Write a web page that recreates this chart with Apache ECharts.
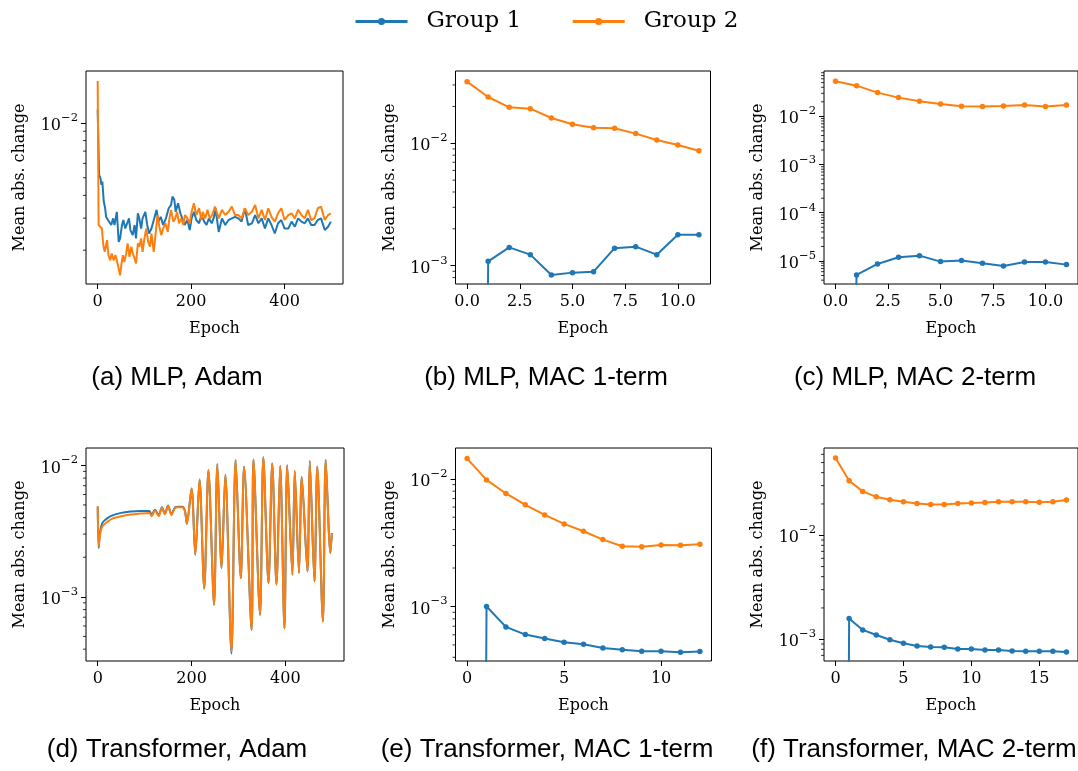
<!DOCTYPE html>
<html>
<head>
<meta charset="utf-8">
<script src="https://cdn.jsdelivr.net/npm/echarts@6/dist/echarts.min.js"></script>
<style>
html,body{margin:0;padding:0;background:#fff;}
#chart{width:1078px;height:771px;}
</style>
</head>
<body>
<div id="chart"></div>
<script>
// ---------------- DATA ----------------
const seriesNames = ['Group 1', 'Group 2'];

// (a) MLP, Adam
const aEpochs1 = [0,3,6,8,10,13,16,18,22,25,29,33,36,41,45,48,52,55,59,63,67,70,75,79,82,86,89,93,96,102,106,110,115,121,126,130,135,140,146,152,157,160,164,167,172,177,181,186,192,197,201,206,211,217,222,228,233,238,244,249,252,259,266,273,280,287,294,301,308,315,322,330,337,344,351,358,365,372,379,386,393,400,408,415,422,429,436,443,450,457,464,471,478,486,493,499];
const aGroup1 = [1.185e-2,5.19e-3,4.97e-3,4.57e-3,4.77e-3,3.70e-3,3.40e-3,3.05e-3,2.93e-3,2.99e-3,2.75e-3,2.99e-3,2.75e-3,3.25e-3,2.22e-3,2.32e-3,2.75e-3,2.93e-3,2.63e-3,2.81e-3,2.99e-3,2.58e-3,2.42e-3,2.75e-3,2.32e-3,3.19e-3,2.99e-3,2.63e-3,2.99e-3,3.25e-3,2.75e-3,2.47e-3,2.63e-3,2.99e-3,3.33e-3,2.87e-3,3.05e-3,2.75e-3,2.99e-3,3.40e-3,3.54e-3,3.94e-3,3.78e-3,3.25e-3,3.62e-3,3.19e-3,2.99e-3,2.75e-3,2.93e-3,2.58e-3,2.99e-3,3.25e-3,2.93e-3,2.81e-3,3.12e-3,2.87e-3,2.75e-3,2.99e-3,2.81e-3,3.05e-3,3.40e-3,2.52e-3,2.99e-3,2.75e-3,2.93e-3,2.99e-3,3.05e-3,2.99e-3,2.87e-3,3.40e-3,2.75e-3,2.81e-3,3.12e-3,2.81e-3,2.99e-3,2.63e-3,2.99e-3,2.75e-3,2.47e-3,2.81e-3,2.93e-3,2.63e-3,2.63e-3,2.87e-3,2.69e-3,2.99e-3,2.87e-3,2.81e-3,2.99e-3,2.75e-3,2.75e-3,2.93e-3,2.99e-3,2.58e-3,2.69e-3,2.87e-3];
const aEpochs2 = [0,2,6,9,12,15,17,20,23,27,30,34,38,41,45,48,51,54,57,61,64,68,72,75,79,82,86,89,93,96,100,104,108,112,115,120,125,128,132,136,140,145,150,153,157,162,166,170,174,179,183,187,192,197,201,206,211,217,222,225,230,235,240,245,251,259,266,273,280,287,294,301,308,315,322,330,337,344,351,358,365,372,379,386,393,400,408,415,422,429,436,443,450,457,464,471,478,486,493,499];
const aGroup2 = [1.70e-2,2.75e-3,2.72e-3,2.63e-3,2.13e-3,1.96e-3,1.92e-3,2.27e-3,1.88e-3,1.76e-3,1.92e-3,1.76e-3,1.88e-3,1.76e-3,1.58e-3,1.455e-3,1.69e-3,1.88e-3,1.72e-3,1.92e-3,2.18e-3,1.84e-3,2.09e-3,1.92e-3,1.80e-3,1.69e-3,2.18e-3,2.09e-3,2.32e-3,1.96e-3,2.32e-3,2.63e-3,2.22e-3,2.09e-3,2.47e-3,1.96e-3,2.63e-3,3.12e-3,2.69e-3,2.42e-3,2.63e-3,2.81e-3,2.52e-3,2.93e-3,3.33e-3,2.87e-3,2.99e-3,3.25e-3,2.81e-3,2.99e-3,2.75e-3,3.12e-3,2.99e-3,2.81e-3,3.25e-3,3.62e-3,3.12e-3,3.40e-3,2.93e-3,3.25e-3,2.99e-3,3.33e-3,2.99e-3,3.12e-3,3.47e-3,2.99e-3,3.33e-3,3.12e-3,3.25e-3,3.47e-3,3.12e-3,3.12e-3,2.99e-3,3.40e-3,3.12e-3,3.25e-3,3.54e-3,2.99e-3,3.33e-3,2.93e-3,3.40e-3,3.05e-3,2.87e-3,3.19e-3,3.40e-3,2.93e-3,3.12e-3,3.19e-3,2.99e-3,3.33e-3,3.12e-3,2.99e-3,3.33e-3,2.93e-3,2.99e-3,3.40e-3,3.47e-3,2.93e-3,3.12e-3,3.19e-3];

// (b) MLP, MAC 1-term
const bEpochs = [0,1,2,3,4,5,6,7,8,9,10,11];
const bGroup1 = [0,1.085e-3,1.41e-3,1.23e-3,8.39e-4,8.77e-4,8.93e-4,1.39e-3,1.43e-3,1.23e-3,1.79e-3,1.79e-3];
const bGroup2 = [3.19e-2,2.39e-2,1.97e-2,1.92e-2,1.61e-2,1.43e-2,1.34e-2,1.33e-2,1.20e-2,1.065e-2,9.69e-3,8.7e-3];

// (c) MLP, MAC 2-term
const cEpochs = [0,1,2,3,4,5,6,7,8,9,10,11];
const cGroup1 = [0,5.13e-6,8.67e-6,1.19e-5,1.29e-5,9.7e-6,1.02e-5,8.95e-6,7.87e-6,9.5e-6,9.5e-6,8.4e-6];
const cGroup2 = [5.32e-2,4.32e-2,3.10e-2,2.44e-2,2.05e-2,1.80e-2,1.61e-2,1.59e-2,1.64e-2,1.72e-2,1.59e-2,1.72e-2];

// (d) Transformer, Adam
const dEpochs = [0,2,5,10,20,30,50,70,90,110,115,122,130,137,143,150,157,165,172,180,186,190,200,208,217,227,236,248,255,264,272,285,294,305,312,328,332,346,353,364,372,381,389,398,404,415,420,429,435,447,452,462,468,480,486,496,499];
const dGroup1 = [4.8e-3,2.35e-3,3.1e-3,3.65e-3,3.95e-3,4.15e-3,4.35e-3,4.45e-3,4.5e-3,4.5e-3,4.2e-3,4.6e-3,4.2e-3,4.8e-3,4.3e-3,4.95e-3,4.25e-3,4.8e-3,4.85e-3,4.85e-3,4.5e-3,3.59e-3,6.67e-3,2.09e-3,7.82e-3,1.16e-3,9.16e-3,8.7e-4,1.02e-2,1.66e-3,8.5e-3,3.7e-4,1.1e-2,1.39e-3,9.77e-3,5.6e-4,1.11e-2,7.3e-4,1.15e-2,1.27e-3,1.035e-2,1.24e-3,9.9e-3,5.77e-4,1.0e-2,1.47e-3,9.05e-3,1.52e-3,8.15e-3,1.56e-3,1.08e-2,1.31e-3,9.77e-3,6.5e-4,1.1e-2,2.15e-3,3.06e-3];
const dGroup2 = [4.9e-3,2.42e-3,2.97e-3,3.44e-3,3.71e-3,3.92e-3,4.1e-3,4.23e-3,4.3e-3,4.35e-3,4.1e-3,4.54e-3,4.1e-3,4.75e-3,4.25e-3,4.9e-3,4.2e-3,4.75e-3,4.8e-3,4.8e-3,4.5e-3,3.59e-3,6.67e-3,2.09e-3,7.82e-3,1.16e-3,9.16e-3,8.7e-4,1.02e-2,1.66e-3,8.5e-3,3.83e-4,1.1e-2,1.39e-3,9.77e-3,5.6e-4,1.11e-2,7.3e-4,1.15e-2,1.27e-3,1.035e-2,1.24e-3,9.9e-3,5.77e-4,1.0e-2,1.47e-3,9.05e-3,1.52e-3,8.15e-3,1.56e-3,1.08e-2,1.31e-3,9.77e-3,6.5e-4,1.1e-2,2.15e-3,3.06e-3];

// (e) Transformer, MAC 1-term
const eEpochs = [0,1,2,3,4,5,6,7,8,9,10,11,12];
const eGroup1 = [0,1.0e-3,6.92e-4,6.02e-4,5.61e-4,5.25e-4,5.06e-4,4.73e-4,4.59e-4,4.46e-4,4.46e-4,4.38e-4,4.43e-4];
const eGroup2 = [1.44e-2,9.8e-3,7.67e-3,6.25e-3,5.21e-3,4.43e-3,3.88e-3,3.34e-3,2.96e-3,2.94e-3,3.03e-3,3.02e-3,3.07e-3];

// (f) Transformer, MAC 2-term
const fEpochs = [0,1,2,3,4,5,6,7,8,9,10,11,12,13,14,15,16,17];
const fGroup1 = [0,1.58e-3,1.23e-3,1.10e-3,9.9e-4,9.15e-4,8.62e-4,8.44e-4,8.38e-4,8.07e-4,8.07e-4,7.89e-4,7.89e-4,7.71e-4,7.66e-4,7.66e-4,7.66e-4,7.55e-4];
const fGroup2 = [5.53e-2,3.34e-2,2.64e-2,2.34e-2,2.19e-2,2.10e-2,2.02e-2,1.98e-2,1.98e-2,2.02e-2,2.04e-2,2.07e-2,2.10e-2,2.10e-2,2.10e-2,2.08e-2,2.10e-2,2.18e-2];

// tick labels
const xTicksAdam = [0, 200, 400];
const xTicksB = [0, 2.5, 5, 7.5, 10];
const xTicksE = [0, 5, 10];
const xTicksF = [0, 5, 10, 15];
const captions = ['(a) MLP, Adam', '(b) MLP, MAC 1-term', '(c) MLP, MAC 2-term',
                  '(d) Transformer, Adam', '(e) Transformer, MAC 1-term', '(f) Transformer, MAC 2-term'];
const xName = 'Epoch';
const yName = 'Mean abs. change';

// ---------------- LAYOUT ----------------
const COLORS = ['#1f77b4', '#ff7f0e'];
const SERIF = 'DejaVu Serif';
const panels = [
  { grid: {left: 86, top: 71, width: 257, height: 213}, xr: [-25, 525], xt: xTicksAdam, fmt: v => String(v), yr: [1.304e-3, 1.929e-2],
    lines: [[aEpochs1, aGroup1], [aEpochs2, aGroup2]], markers: false, smooth: false, cap: [177, 378] },
  { grid: {left: 455.5, top: 71, width: 255, height: 213}, xr: [-0.55, 11.55], xt: xTicksB, fmt: v => v.toFixed(1), yr: [7.08e-4, 0.039],
    lines: [[bEpochs, bGroup1], [bEpochs, bGroup2]], markers: true, smooth: false, cap: [546, 378] },
  { grid: {left: 824, top: 71, width: 258, height: 213}, xr: [-0.55, 11.55], xt: xTicksB, fmt: v => v.toFixed(1), yr: [3.33e-6, 0.087],
    lines: [[cEpochs, cGroup1], [cEpochs, cGroup2]], markers: true, smooth: false, cap: [915, 378] },
  { grid: {left: 86, top: 448, width: 258, height: 213}, xr: [-25, 525], xt: xTicksAdam, fmt: v => String(v), yr: [3.25e-4, 0.01355],
    lines: [[dEpochs, dGroup1], [dEpochs, dGroup2]], markers: false, smooth: 0.3, cap: [177, 750] },
  { grid: {left: 455.5, top: 448, width: 256, height: 213}, xr: [-0.6, 12.6], xt: xTicksE, fmt: v => String(v), yr: [3.74e-4, 0.01742],
    lines: [[eEpochs, eGroup1], [eEpochs, eGroup2]], markers: true, smooth: false, cap: [547, 750] },
  { grid: {left: 824, top: 448, width: 257, height: 213}, xr: [-0.85, 17.85], xt: xTicksF, fmt: v => String(v), yr: [6.18e-4, 0.069],
    lines: [[fEpochs, fGroup1], [fEpochs, fGroup2]], markers: true, smooth: false, cap: [914, 750] }
];

function decadesIn(lo, hi) {
  const out = [];
  for (let k = Math.floor(Math.log10(lo)); k <= Math.ceil(Math.log10(hi)); k++) {
    const v = Math.pow(10, k);
    if (v >= lo * 0.999 && v <= hi * 1.001) out.push(v);
  }
  return out;
}
function minorsIn(lo, hi) {
  const out = [];
  for (let k = Math.floor(Math.log10(lo)); k <= Math.ceil(Math.log10(hi)); k++) {
    for (let m = 2; m <= 9; m++) {
      const v = m * Math.pow(10, k);
      if (v >= lo && v <= hi) out.push(v);
    }
  }
  return out;
}

const grids = [], xAxes = [], yAxes = [], series = [], graphics = [];
const lineSeries = [];
panels.forEach((p, i) => {
  grids.push(Object.assign({show: true, borderColor: '#000', borderWidth: 1, backgroundColor: '#fff', containLabel: false}, p.grid));
  xAxes.push({
    type: 'value', gridIndex: i, min: p.xr[0], max: p.xr[1],
    name: xName, nameLocation: 'middle', nameGap: 36.5,
    nameTextStyle: {fontFamily: SERIF, fontSize: 16, color: '#000'},
    axisLine: {show: false, onZero: false},
    axisTick: {show: true, length: 5, inside: false, customValues: p.xt, lineStyle: {color: '#000', width: 1}},
    axisLabel: {show: true, customValues: p.xt, formatter: p.fmt, margin: 10, fontFamily: SERIF, fontSize: 16, color: '#000'},
    splitLine: {show: false}
  });
  const dec = decadesIn(p.yr[0], p.yr[1]);
  yAxes.push({
    type: 'log', logBase: 10, gridIndex: i, min: p.yr[0], max: p.yr[1],
    name: yName, nameLocation: 'middle', nameGap: 58,
    nameTextStyle: {fontFamily: SERIF, fontSize: 16, color: '#000'},
    axisLine: {show: false, onZero: false},
    axisTick: {show: true, length: 5, inside: false, customValues: dec, lineStyle: {color: '#000', width: 1}},
    axisLabel: {
      show: true, customValues: dec, margin: 8, color: '#000',
      formatter: v => {
        const e = Math.round(Math.log10(v));
        return '{b|10}{e|' + (e < 0 ? '\u2212' : '') + Math.abs(e) + '}';
      },
      rich: {
        b: {fontFamily: SERIF, fontSize: 16, color: '#000', lineHeight: 22, verticalAlign: 'bottom'},
        e: {fontFamily: SERIF, fontSize: 11.5, color: '#000', verticalAlign: 'top', lineHeight: 22}
      }
    },
    splitLine: {show: false}
  });
  // minor log ticks
  series.push({
    type: 'custom', xAxisIndex: i, yAxisIndex: i, silent: true, clip: false, z: 1,
    data: minorsIn(p.yr[0], p.yr[1]).map(v => [p.xr[0], v]),
    renderItem: (params, api) => {
      const pt = api.coord([api.value(0), api.value(1)]);
      const x0 = params.coordSys.x;
      return {type: 'line', shape: {x1: x0 - 3, y1: pt[1], x2: x0, y2: pt[1]}, style: {stroke: '#000', lineWidth: 0.8}};
    }
  });
  p.lines.forEach((ln, k) => {
    lineSeries.push({
      order: p.markers ? 0 : 1,
      s: {
        type: 'line', name: seriesNames[k], xAxisIndex: i, yAxisIndex: i,
        data: ln[0].map((x, j) => [x, ln[1][j] > 0 ? ln[1][j] : 1e-30]),
        showSymbol: p.markers, symbol: 'circle', symbolSize: 5.5,
        smooth: p.smooth, clip: true,
        lineStyle: {width: 2, color: COLORS[k]},
        itemStyle: {color: COLORS[k]},
        z: 2 + k, animation: false
      }
    });
  });
  graphics.push({
    type: 'text', x: p.cap[0], y: p.cap[1],
    style: {text: captions[i], font: '26px "Liberation Sans"', fill: '#000', textAlign: 'center', textVerticalAlign: 'middle'}
  });
});
lineSeries.sort((a, b) => a.order - b.order).forEach(o => series.push(o.s));

const chart = echarts.init(document.getElementById('chart'), null, {renderer: 'canvas'});
chart.setOption({
  animation: false,
  backgroundColor: '#fff',
  legend: {
    data: seriesNames, left: 349, top: 5, itemWidth: 52, itemHeight: 9, itemGap: 50,
    textStyle: {fontFamily: SERIF, fontSize: 23, color: '#000', padding: [0, 0, 0, 14]},
    lineStyle: {width: 3}
  },
  grid: grids, xAxis: xAxes, yAxis: yAxes, series: series, graphic: graphics
});
</script>
</body>
</html>
